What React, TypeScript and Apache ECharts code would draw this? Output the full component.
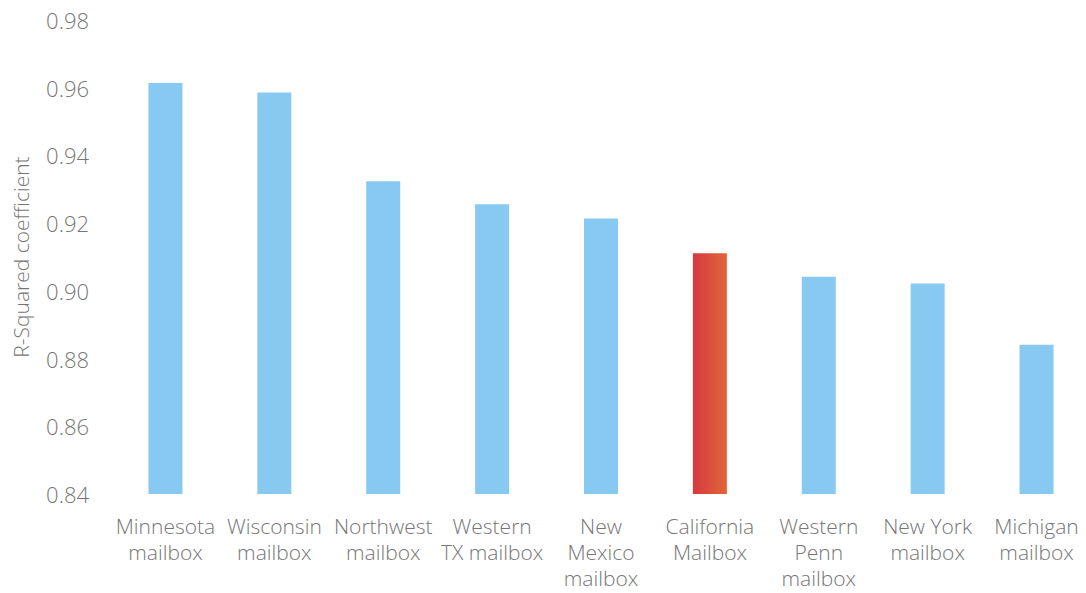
import React, { useEffect, useRef } from "react";
import * as echarts from "echarts";

const categories = [
  "Minnesota\nmailbox",
  "Wisconsin\nmailbox",
  "Northwest\nmailbox",
  "Western\nTX mailbox",
  "New\nMexico\nmailbox",
  "California\nMailbox",
  "Western\nPenn\nmailbox",
  "New York\nmailbox",
  "Michigan\nmailbox",
];
const values = [0.9614, 0.9586, 0.9324, 0.9256, 0.9214, 0.9111, 0.9042, 0.9022, 0.8841];
const highlightIndex = 5;
const yAxisTitle = "R-Squared coefficient";

export default function App() {
  const ref = useRef<HTMLDivElement>(null);
  useEffect(() => {
    document.body.style.margin = "0";
    document.body.style.overflow = "hidden";
    if (!ref.current) return;
    const chart = echarts.init(ref.current, undefined, { renderer: "svg" });
    const font = "'Open Sans', 'Noto Sans', sans-serif";
    chart.setOption({
      animation: false,
      backgroundColor: "#ffffff",
      grid: { left: 111, top: 20, width: 980, height: 474, outerBoundsMode: "none", containLabel: false },
      xAxis: {
        type: "category",
        data: categories,
        axisLine: { show: false },
        axisTick: { show: false },
        axisLabel: {
          interval: 0,
          margin: 19,
          color: "#767676",
          fontFamily: font,
          fontWeight: 300,
          fontSize: 21,
          lineHeight: 26,
        },
      },
      yAxis: {
        type: "value",
        min: 0.84,
        max: 0.98,
        interval: 0.02,
        name: yAxisTitle,
        nameLocation: "middle",
        nameGap: 80,
        nameTextStyle: { color: "#767676", fontFamily: font, fontWeight: 300, fontSize: 21 },
        splitLine: { show: false },
        axisLine: { show: false },
        axisTick: { show: false },
        axisLabel: {
          margin: 22,
          color: "#767676",
          fontFamily: font,
          fontWeight: 300,
          fontSize: 22,
          formatter: (v: number) => v.toFixed(2),
        },
      },
      series: [
        {
          type: "bar",
          barWidth: 34,
          data: values.map((v, i) => ({
            value: v,
            itemStyle: {
              color:
                i === highlightIndex
                  ? new echarts.graphic.LinearGradient(0, 0, 1, 0, [
                      { offset: 0, color: "#d63a3e" },
                      { offset: 1, color: "#e2653a" },
                    ])
                  : "#87c9f0",
            },
          })),
        },
      ],
    });
    return () => chart.dispose();
  }, []);
  return <div ref={ref} style={{ width: 1086, height: 593 }} />;
}
